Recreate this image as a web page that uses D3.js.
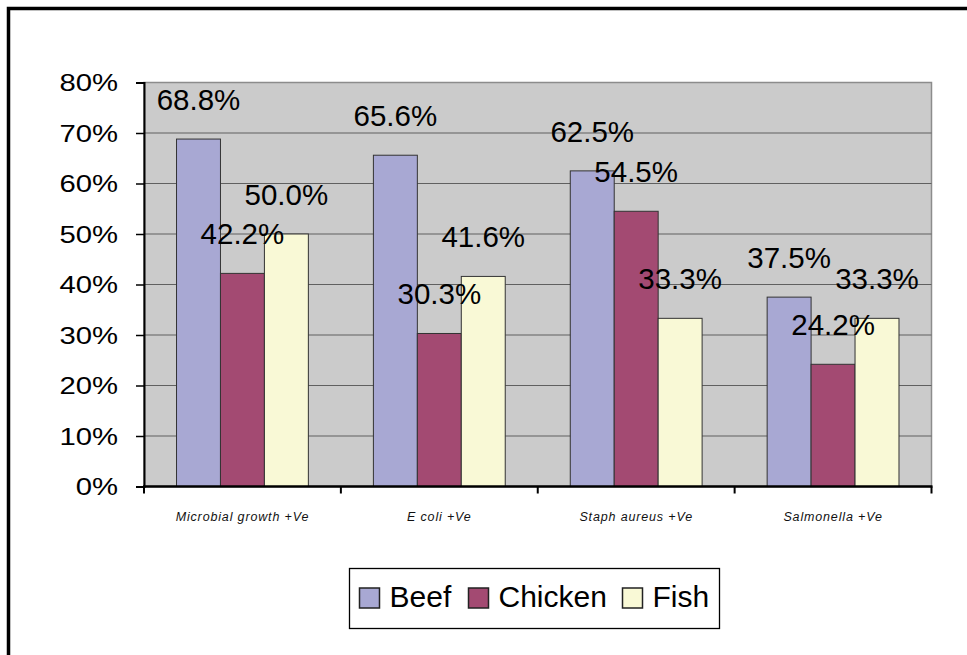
<!DOCTYPE html>
<html>
<head>
<meta charset="utf-8">
<script src="https://cdn.jsdelivr.net/npm/d3@7"></script>
<style>
  html, body { margin: 0; padding: 0; background: #fff; }
  svg { display: block; font-family: "Liberation Sans", Arial, sans-serif; }
</style>
</head>
<body>
<svg id="chart" width="967" height="655"></svg>
<script>
// Share of positive samples by test and meat type
const categories = ["Microbial growth +Ve", "E coli +Ve", "Staph aureus +Ve", "Salmonella +Ve"];
const seriesNames = ["Beef", "Chicken", "Fish"];
const beef    = [68.8, 65.6, 62.5, 37.5];
const chicken = [42.2, 30.3, 54.5, 24.2];
const fish    = [50.0, 41.6, 33.3, 33.3];
const yTicks  = [0, 10, 20, 30, 40, 50, 60, 70, 80];
const colors  = ["#a8a8d3", "#a34a72", "#f9f9d6"];

const series = [beef, chicken, fish];
const svg = d3.select("#chart");

// Outer chart frame
svg.append("rect").attr("x", 8.5).attr("y", 8.5).attr("width", 970).attr("height", 660)
  .attr("fill", "none").attr("stroke", "#000").attr("stroke-width", 3.5);

const plot = { left: 144, right: 931.5, top: 82.5, bottom: 486.5 };

const x0 = d3.scaleBand().domain(categories).range([plot.left, plot.right]).paddingInner(0).paddingOuter(0);
const x1 = d3.scaleBand().domain(seriesNames).range([0, x0.bandwidth()]).paddingOuter(0.74).paddingInner(0);
const y = d3.scaleLinear().domain([0, 80]).range([plot.bottom, plot.top]);

// Plot background
svg.append("rect").attr("x", plot.left).attr("y", plot.top)
  .attr("width", plot.right - plot.left).attr("height", plot.bottom - plot.top)
  .attr("fill", "#cbcbcb").attr("stroke", "#8c8c8c").attr("stroke-width", 1.5);

// Horizontal gridlines
svg.append("g").selectAll("line").data(yTicks.filter(t => t > 0 && t < 80)).join("line")
  .attr("x1", plot.left).attr("x2", plot.right)
  .attr("y1", d => y(d)).attr("y2", d => y(d))
  .attr("stroke", "#606060").attr("stroke-width", 1.2);

// Bars
const groups = svg.append("g").selectAll("g").data(categories).join("g")
  .attr("transform", d => `translate(${x0(d)},0)`);

groups.selectAll("rect")
  .data((c, i) => seriesNames.map((s, k) => ({ s, k, v: series[k][i] })))
  .join("rect")
  .attr("x", d => x1(d.s)).attr("width", x1.bandwidth())
  .attr("y", d => y(d.v)).attr("height", d => y(0) - y(d.v))
  .attr("fill", d => colors[d.k]).attr("stroke", "#333").attr("stroke-width", 1);

// Value labels above each bar
groups.selectAll("text.lbl")
  .data((c, i) => seriesNames.map((s, k) => ({ s, k, v: series[k][i] })))
  .join("text").attr("class", "lbl")
  .attr("x", d => x1(d.s) + x1.bandwidth() / 2)
  .attr("y", d => y(d.v) - 29)
  .attr("text-anchor", "middle")
  .attr("font-size", 29.5).attr("fill", "#000")
  .text(d => d.v.toFixed(1) + "%");

// Y axis
const yAxis = d3.axisLeft(y).tickValues(yTicks).tickSize(8).tickFormat("");
const yg = svg.append("g").attr("transform", `translate(${plot.left},0)`).call(yAxis);
yg.select(".domain").attr("stroke", "#000").attr("stroke-width", 2);
yg.selectAll(".tick line").attr("stroke", "#000").attr("stroke-width", 1.5);

svg.append("g").selectAll("g").data(yTicks).join("g")
  .attr("transform", d => `translate(118,${y(d)}) scale(1.22,1)`)
  .append("text")
  .attr("text-anchor", "end").attr("dy", "0.36em")
  .attr("font-size", 24).attr("fill", "#000")
  .text(d => d + "%");

// X axis with ticks between categories
const boundaries = categories.map(c => x0(c)).concat([plot.right]);
svg.append("line").attr("x1", plot.left - 1).attr("x2", plot.right + 1)
  .attr("y1", plot.bottom).attr("y2", plot.bottom)
  .attr("stroke", "#000").attr("stroke-width", 2.5);
svg.append("g").selectAll("line").data(boundaries).join("line")
  .attr("x1", d => d).attr("x2", d => d)
  .attr("y1", plot.bottom).attr("y2", plot.bottom + 7)
  .attr("stroke", "#000").attr("stroke-width", 2);

svg.append("g").selectAll("text").data(categories).join("text")
  .attr("x", d => x0(d) + x0.bandwidth() / 2).attr("y", 520.5)
  .attr("text-anchor", "middle").attr("font-size", 12.5).attr("font-style", "italic")
  .attr("letter-spacing", 0.85).attr("fill", "#111")
  .text(d => d);

// Legend
const legend = svg.append("g");
legend.append("rect").attr("x", 349.5).attr("y", 568.5).attr("width", 370).attr("height", 60)
  .attr("fill", "#fff").attr("stroke", "#000").attr("stroke-width", 1.3);
const legendX = [359.5, 468.5, 622.5];
const items = legend.selectAll("g.item").data(seriesNames).join("g").attr("class", "item")
  .attr("transform", (d, i) => `translate(${legendX[i]},588)`);
items.append("rect").attr("width", 20).attr("height", 20)
  .attr("fill", (d, i) => colors[i]).attr("stroke", "#222").attr("stroke-width", 1.5);
items.append("text").attr("x", 30).attr("y", 19)
  .attr("font-size", 30).attr("fill", "#000").text(d => d);
</script>
</body>
</html>
